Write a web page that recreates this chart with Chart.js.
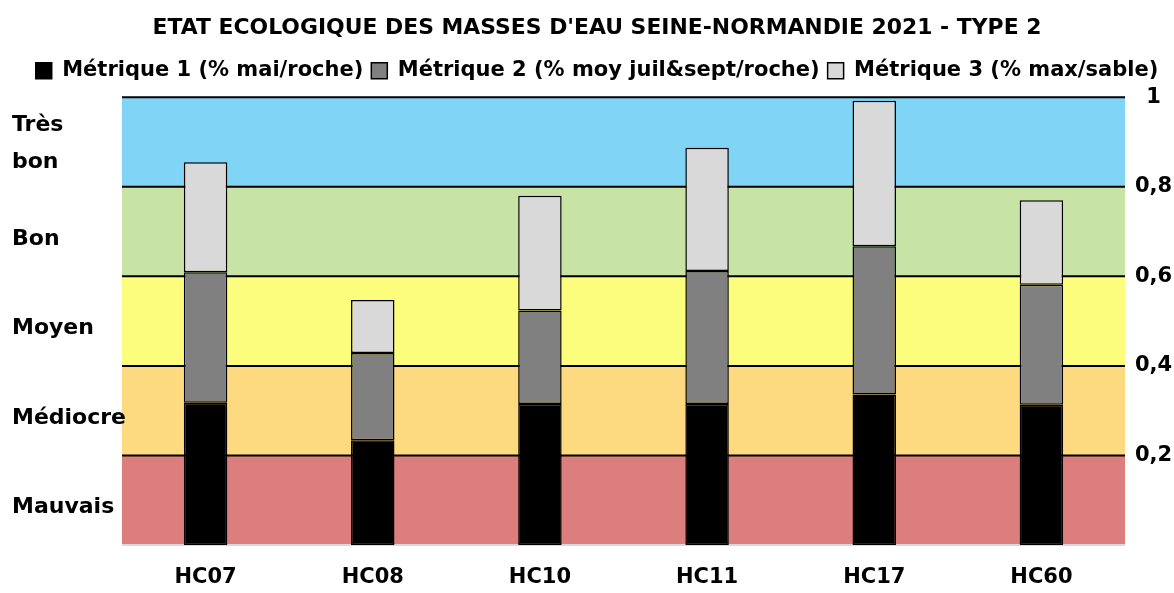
<!DOCTYPE HTML>
<html>
<head>
    <meta charset="utf-8">
    <script src="https://cdn.jsdelivr.net/npm/chart.js"></script>
    <style>
        body {
            margin: 0;
            background: white;
        }
        .chart-container {
            width: 1174px;
            height: 593px;
        }
    </style>
</head>
<body>
    <div class="chart-container">
        <canvas id="etatChart"></canvas>
    </div>

    <script>
        const stations = ['HC07', 'HC08', 'HC10', 'HC11', 'HC17', 'HC60'];
        const metrique1 = [0.318, 0.234, 0.315, 0.315, 0.336, 0.313];
        const metrique2 = [0.291, 0.195, 0.209, 0.297, 0.331, 0.268];
        const metrique3 = [0.246, 0.118, 0.256, 0.275, 0.325, 0.189];

        // classes d'etat (bornes basses / hautes)
        const classNames = ['Mauvais', 'Médiocre', 'Moyen', 'Bon', 'Très bon'];
        const classLow = [0, 0.2, 0.4, 0.6, 0.8];
        const classHigh = [0.2, 0.4, 0.6, 0.8, 1];
        const classColors = ['#dd7e7e', '#fdda80', '#fdfd7d', '#c7e4a6', '#80d4f5'];

        const yTicks = [0.2, 0.4, 0.6, 0.8, 1];

        Chart.defaults.font.family = 'DejaVu Sans';
        Chart.defaults.font.weight = 'bold';
        Chart.defaults.color = '#000';

        const bandsPlugin = {
            id: 'bands',
            beforeDatasetsDraw(chart) {
                const ctx = chart.ctx;
                const area = chart.chartArea;
                const y = chart.scales.y;
                ctx.save();
                for (let i = 0; i < classNames.length; i++) {
                    const top = y.getPixelForValue(classHigh[i]);
                    const bottom = y.getPixelForValue(classLow[i]);
                    ctx.fillStyle = classColors[i];
                    ctx.fillRect(area.left, top, area.right - area.left, bottom - top);
                }
                // lignes de separation des classes
                ctx.strokeStyle = '#000';
                ctx.lineWidth = 2;
                yTicks.forEach(v => {
                    const py = y.getPixelForValue(v);
                    ctx.beginPath();
                    ctx.moveTo(area.left, py);
                    ctx.lineTo(area.right, py);
                    ctx.stroke();
                });
                ctx.strokeStyle = '#d9d9d9';
                ctx.beginPath();
                ctx.moveTo(area.left, y.getPixelForValue(0));
                ctx.lineTo(area.right, y.getPixelForValue(0));
                ctx.stroke();

                // noms des classes a gauche
                ctx.fillStyle = '#000';
                ctx.font = 'bold 22px "DejaVu Sans"';
                ctx.textAlign = 'left';
                ctx.textBaseline = 'alphabetic';
                for (let i = 0; i < classNames.length; i++) {
                    const mid = y.getPixelForValue((classLow[i] + classHigh[i]) / 2);
                    const words = classNames[i] === 'Très bon' ? ['Très', 'bon'] : [classNames[i]];
                    const shift = words.length > 1 ? -5.5 : 0;
                    words.forEach((w, k) => {
                        ctx.fillText(w, 12, mid + 13 + shift + (k - (words.length - 1) / 2) * 36.4);
                    });
                }
                ctx.restore();
            }
        };

        const ctx = document.getElementById('etatChart').getContext('2d');
        new Chart(ctx, {
            type: 'bar',
            data: {
                labels: stations,
                datasets: [{
                    label: 'Métrique 1 (% mai/roche)',
                    data: metrique1,
                    backgroundColor: '#000000',
                    borderColor: '#000000',
                    borderWidth: 1.5,
                    borderSkipped: false
                }, {
                    label: 'Métrique 2 (% moy juil&sept/roche)',
                    data: metrique2,
                    backgroundColor: '#808080',
                    borderColor: '#000000',
                    borderWidth: 1.5,
                    borderSkipped: false
                }, {
                    label: 'Métrique 3 (% max/sable)',
                    data: metrique3,
                    backgroundColor: '#d9d9d9',
                    borderColor: '#000000',
                    borderWidth: 1.5,
                    borderSkipped: false
                }]
            },
            options: {
                responsive: true,
                maintainAspectRatio: false,
                animation: false,
                layout: {
                    padding: { left: 20, right: 0, top: 6, bottom: 0 }
                },
                datasets: {
                    bar: { categoryPercentage: 1, barPercentage: 0.26 }
                },
                plugins: {
                    title: {
                        display: true,
                        text: 'ETAT ECOLOGIQUE DES MASSES D\'EAU SEINE-NORMANDIE 2021 - TYPE 2',
                        font: { size: 21.9, weight: 'bold' },
                        color: '#000',
                        padding: { top: 9, bottom: 11 }
                    },
                    legend: {
                        position: 'top',
                        labels: {
                            boxWidth: 16,
                            boxHeight: 16,
                            padding: 8,
                            font: { size: 21, weight: 'bold' },
                            color: '#000'
                        }
                    },
                    tooltip: { enabled: false }
                },
                scales: {
                    x: {
                        stacked: true,
                        grid: { display: false, drawTicks: false },
                        border: { display: false },
                        ticks: { font: { size: 21, weight: 'bold' }, padding: 20, color: '#000' },
                        afterFit(scale) { scale.height = 48; }
                    },
                    // axe vide en haut, espace entre legende et graphique
                    xTop: {
                        position: 'top',
                        grid: { display: false, drawTicks: false },
                        border: { display: false },
                        ticks: { display: false },
                        afterFit(scale) { scale.height = 6; }
                    },
                    y: {
                        stacked: true,
                        position: 'right',
                        min: 0,
                        max: 1,
                        grid: { display: false, drawTicks: false },
                        border: { display: false },
                        afterBuildTicks(scale) {
                            scale.ticks = yTicks.map(v => ({ value: v }));
                        },
                        ticks: {
                            font: { size: 21, weight: 'bold' },
                            color: '#000',
                            padding: 10,
                            crossAlign: 'center',
                            callback: v => String(v).replace('.', ',')
                        },
                        afterFit(scale) { scale.width = 49; }
                    },
                    // axe vide a gauche, reserve la place des noms de classes
                    yLeft: {
                        position: 'left',
                        min: 0,
                        max: 1,
                        grid: { display: false, drawTicks: false },
                        border: { display: false },
                        ticks: { display: false },
                        afterFit(scale) { scale.width = 102; }
                    }
                }
            },
            plugins: [bandsPlugin]
        });
    </script>
</body>
</html>
